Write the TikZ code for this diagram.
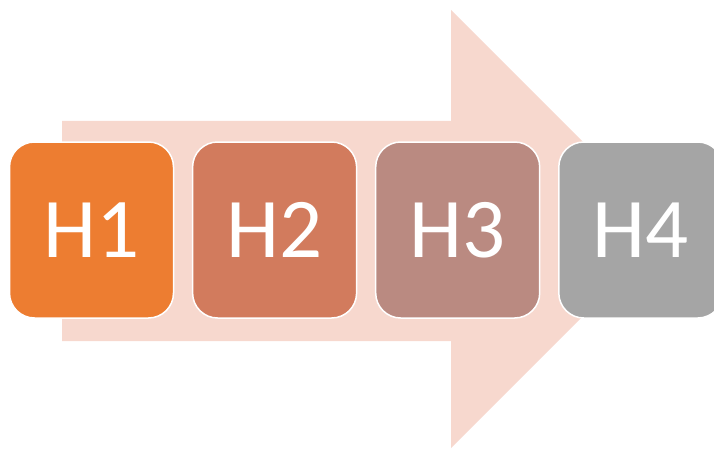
\documentclass[tikz,border=0pt]{standalone}
\usepackage{fontspec}
\setmainfont{Carlito}
\usepackage{tikz}
\usetikzlibrary{positioning}
\definecolor{hOne}{HTML}{ED7D31}
\definecolor{hTwo}{HTML}{D27B5D}
\definecolor{hThree}{HTML}{BA8A81}
\definecolor{hFour}{HTML}{A5A5A5}
\definecolor{arrowPink}{HTML}{F7D8CE}
\tikzstyle{hbox}=[rectangle,rounded corners=25pt,minimum width=164pt,
  minimum height=176pt,inner sep=0pt,draw=white,line width=1.5pt,
  text=white,font=\fontsize{85}{100}\selectfont]
\tikzstyle{bigarrow}=[fill=arrowPink,draw=none]

\begin{document}
\begin{tikzpicture}[x=1pt,y=1pt,node distance=17.6pt]
  \useasboundingbox (0,0) rectangle (714,448);

  % Fleche de fond
  \fill[bigarrow] (62,327) -- (451,327) -- (451,438) -- (670,219)
    -- (451,0) -- (451,107) -- (62,107) -- cycle;

  % Etapes
  \node[hbox, fill=hOne] (h1) at (91.5,218) {H1};
  \node[hbox, fill=hTwo, right=of h1]   (h2) {H2};
  \node[hbox, fill=hThree, right=of h2] (h3) {H3};
  \node[hbox, fill=hFour, right=of h3]  (h4) {H4};

\end{tikzpicture}
\end{document}
